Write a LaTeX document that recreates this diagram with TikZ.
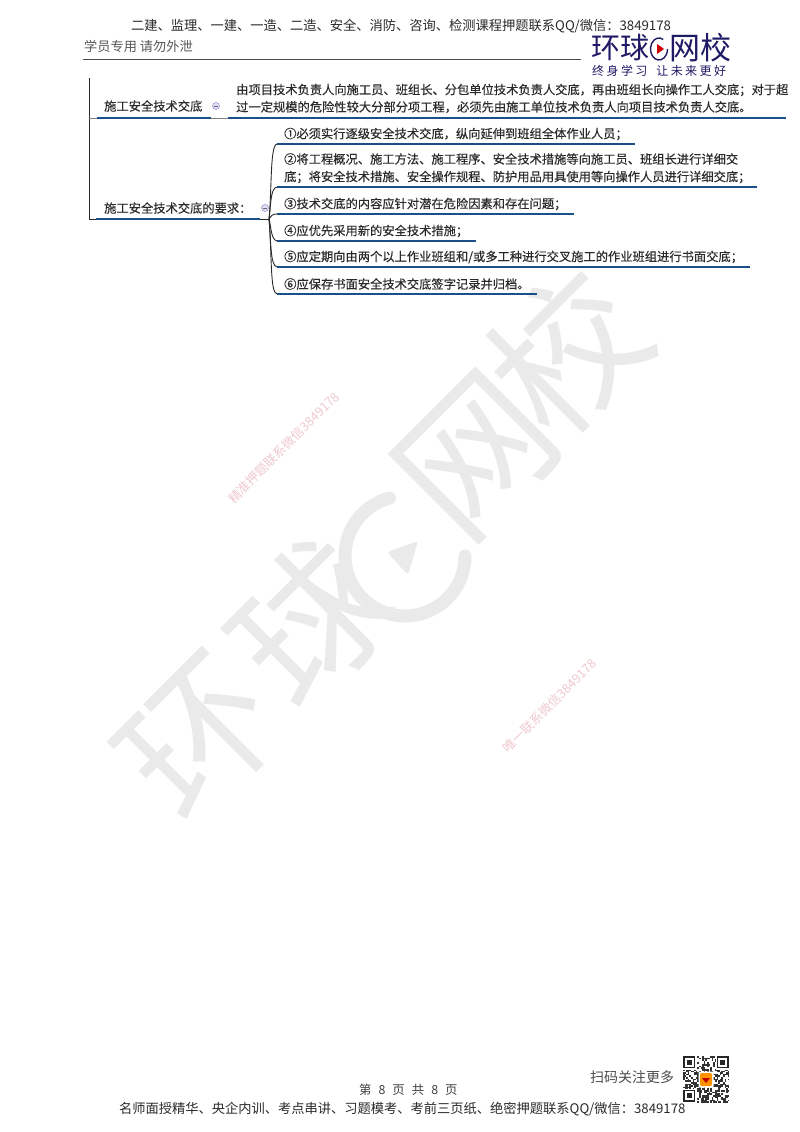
\documentclass[tikz,border=0pt]{standalone}
\usepackage{fontspec}
\setmainfont{Noto Sans CJK SC}
\newfontfamily\boldcjk[FakeBold=0.25]{Noto Sans CJK SC}
\newcommand{\fsz}[1]{\fontsize{#1}{#1}\selectfont}
\newcommand{\zc}{\symbol{"FF0C}}
\newcommand{\zs}{\symbol{"FF1B}}
\newcommand{\zk}{\symbol{"FF1A}}
\usetikzlibrary{calc}
\definecolor{mapblue}{HTML}{1B4F8A}
\definecolor{logoblue}{HTML}{1F1A66}
\definecolor{wmgray}{HTML}{EAEAEA}
\definecolor{wmpink}{HTML}{EFC9CE}
\definecolor{inkdark}{HTML}{2A2A2A}
\tikzset{
  lbl/.style={inner sep=0pt,anchor=west,text=inkdark},
  maptext/.style={lbl,font=\boldcjk\fsz{12.27}},
  headtext/.style={lbl,font=\fsz{13.25}},
  bigmark/.style={inner sep=0pt,text=wmgray,rotate=45,font=\fsz{150}},
  smallmark/.style={inner sep=0pt,text=wmpink,rotate=45,font=\fsz{12.7}},
  blueline/.style={draw=mapblue,line width=2.4pt},
  trunk/.style={draw=inkdark,line width=0.9pt},
  fold/.style={circle,draw=black!45!blue!40,fill=black!15!blue!12,minimum size=7pt,inner sep=0pt,line width=0.6pt}
}
\begin{document}
\begin{tikzpicture}[x=1pt,y=-1pt]
\useasboundingbox[fill=white] (0,0) rectangle (800,1132);
% large watermark
\node[bigmark] (wm1) at (200,738) {环};
\node[bigmark] (wm2) at (310,622) {球};
\node[bigmark] (wm4) at (477,456) {网};
\node[bigmark] (wm5) at (567,352) {校};
\coordinate (wmc) at (405,556);
\draw[wmgray,line width=13pt,line cap=round] ($(wmc)+(105:60 and -60)$) arc[start angle=-105,end angle=-360,radius=60];
\fill[wmgray,rounded corners=3pt] (387,552) -- (418,541) -- (408,575) -- cycle;
% small watermarks
\node[smallmark] (wm6) at (284,448) {精准押题联系微信3849178};
\node[smallmark] (wm7) at (550,706) {唯一联系微信3849178};
% header
\node[headtext] (head) at (131,26) {二建、监理、一建、一造、二造、安全、消防、咨询、检测课程押题联系QQ/微信\zk 3849178};
\node[lbl,font=\fsz{13.2},text=black!65] (staff) at (84,46) {学员专用 请勿外泄};
\coordinate (hl) at (83,59); \coordinate (hr) at (581,59);
\draw[black!70,line width=0.8pt] (hl) -- (hr);
% logo
\node[lbl,text=logoblue,font=\fsz{29}] (logoa) at (591,48) {环球};
\node[lbl,text=logoblue,font=\fsz{31}] (logob) at (669,48) {网校};
\coordinate (logoc) at (659,49);
\draw[logoblue,line width=1.4pt] ($(logoc)+(60:8.5 and -11)$) arc[x radius=8.5,y radius=11,start angle=-60,end angle=-360];
\fill[red!80!black] (657,44) -- (664,49) -- (657,54) -- cycle;
\node[lbl,text=logoblue,font=\fsz{12}\addfontfeature{LetterSpace=20}] (logos) at (592,71) {终身学习\hspace{9pt}让未来更好};
% map
\coordinate (ttop) at (89,78);
\coordinate (tj1) at (89,118);
\coordinate (tj2) at (89,219);
\draw[trunk] (ttop) -- (tj2);
% branch 1
\node[maptext] (b1) at (104,106) {施工安全技术交底};
\node[fold] (f1) at (216,106) {};
\draw[black!60,line width=0.6pt] ($(f1.west)+(1.5,0)$) -- ($(f1.east)+(-1.5,0)$);
\node[maptext] (b1a) at (236,90) {由项目技术负责人向施工员、班组长、分包单位技术负责人交底\zc 再由班组长向操作工人交底\zs 对于超};
\node[maptext] (b1b) at (236,107) {过一定规模的危险性较大分部分项工程\zc 必须先由施工单位技术负责人向项目技术负责人交底。};
\coordinate (u1a) at (97,118); \coordinate (u1b) at (211,118);
\coordinate (u1c) at (228,118); \coordinate (u1d) at (786,118);
\draw[trunk,black!50] (tj1) -- (u1a) (u1b) -- (u1c);
\draw[blueline] (u1a) -- (u1b);
\draw[blueline] (u1c) -- (u1d);
% branch 2
\node[maptext] (b2) at (104,208) {施工安全技术交底的要求\zk};
\node[fold] (f2) at (265,208) {};
\draw[black!60,line width=0.6pt] ($(f2.west)+(1.5,0)$) -- ($(f2.east)+(-1.5,0)$);
\coordinate (u2a) at (96,219); \coordinate (u2b) at (260,219); \coordinate (hub) at (269,219);
\draw[trunk] (tj2) -- (u2a) (u2b) -- (hub);
\draw[blueline] (u2a) -- (u2b);
% children
\node[maptext] (c1) at (284,134) {①必须实行逐级安全技术交底\zc 纵向延伸到班组全体作业人员\zs};
\node[maptext] (c2a) at (284,159) {②将工程概况、施工方法、施工程序、安全技术措施等向施工员、班组长进行详细交};
\node[maptext] (c2b) at (284,177) {底\zs 将安全技术措施、安全操作规程、防护用品用具使用等向操作人员进行详细交底\zs};
\node[maptext] (c3) at (284,204) {③技术交底的内容应针对潜在危险因素和存在问题\zs};
\node[maptext] (c4) at (284,231) {④应优先采用新的安全技术措施\zs};
\node[maptext] (c5) at (284,257) {⑤应定期向由两个以上作业班组和/或多工种进行交叉施工的作业班组进行书面交底\zs};
\node[maptext] (c6) at (284,284) {⑥应保存书面安全技术交底签字记录并归档。};
\foreach \n/\yy/\xe in {1/144/635,2/187/757,3/214/574,4/241/476,5/267/750,6/294/537}{
  \coordinate (s\n) at (277,\yy);
  \coordinate (e\n) at (\xe,\yy);
  \draw[blueline] (s\n) -- (e\n);
}
\draw[trunk] (hub) .. controls +(3,-32) and +(-7,1) .. (s1);
\draw[trunk] (hub) .. controls +(2,-12) and +(-7,1) .. (s2);
\draw[trunk] (hub) .. controls +(2,-3) and +(-5,0) .. (s3);
\draw[trunk] (hub) .. controls +(2,7) and +(-6,-1) .. (s4);
\draw[trunk] (hub) .. controls +(2,20) and +(-7,-1) .. (s5);
\draw[trunk] (hub) .. controls +(3,36) and +(-7,-1) .. (s6);
% footer
\node[lbl,font=\fsz{14},text=black!70] (scan) at (590,1077) {扫码关注更多};
\node[lbl,font=\fsz{12.4},text=black!75] (pg) at (359,1090) {第\hspace{7pt}8\hspace{7pt}页\hspace{7pt}共\hspace{7pt}8\hspace{7pt}页};
\node[headtext] (foot) at (119,1109) {名师面授精华、央企内训、考点串讲、习题模考、考前三页纸、绝密押题联系QQ/微信\zk 3849178};
% QR
\pgfmathsetseed{3849}
\foreach \i in {0,...,28}{\foreach \j in {0,...,28}{
  \pgfmathparse{rnd>0.5?1:0}
  \ifnum\pgfmathresult=1
    \fill[black!80] ({683+\i*1.6},{1056+\j*1.62}) rectangle +(1.6,1.62);
  \fi
}}
\foreach \cx/\cy in {683/1056,716.5/1056,683/1089.6}{
  \fill[white] (\cx-0.5,\cy-0.5) rectangle +(14,14);
  \draw[black!85,line width=1.6pt] (\cx+0.8,\cy+0.8) rectangle +(10.8,10.8);
  \fill[black!85] (\cx+3.6,\cy+3.6) rectangle +(5.2,5.2);
}
\fill[white,rounded corners=1pt] (698.5,1071.5) rectangle (713.5,1087.5);
\fill[orange!85!yellow,rounded corners=2pt] (700,1073) rectangle (712,1086);
\fill[red!75!black] (702,1078) -- (710,1078) -- (706,1083) -- cycle;
\end{tikzpicture}
\end{document}
